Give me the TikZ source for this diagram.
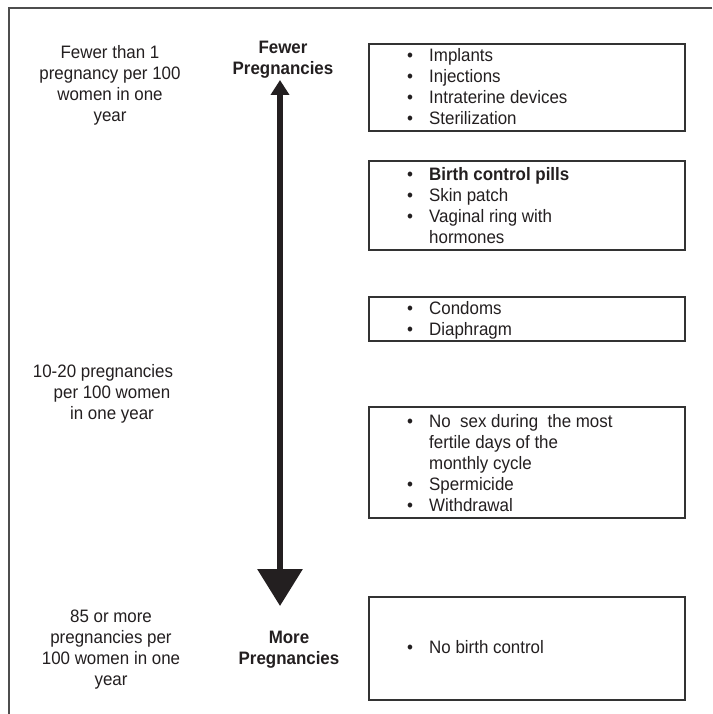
\documentclass[tikz,border=0pt]{standalone}
\usepackage{fontspec}
\setmainfont{Liberation Sans}[FakeStretch=0.94]
\usetikzlibrary{arrows.meta}
\definecolor{ink}{HTML}{231F20}
\definecolor{boxc}{HTML}{333333}
\definecolor{framec}{HTML}{4D4D4D}
\newcommand{\bul}{\makebox[22pt][l]{•}}
\newcommand{\ind}{\hspace*{22pt}}
\begin{document}
\begin{tikzpicture}[x=1pt,y=-1pt,
  txt/.style={font=\fontsize{18}{21}\selectfont, text=ink, inner sep=0pt},
  lbl/.style={txt, align=center, anchor=base},
  lblb/.style={lbl, font=\fontsize{18}{21}\selectfont\bfseries},
  lst/.style={txt, align=left, anchor=base west},
  box/.style={draw=boxc, line width=1.4pt, minimum width=316pt, inner sep=0pt},
  frame/.style={draw=framec, line width=2pt},
  bigarrow/.style={draw=ink, line width=6.5pt, {Triangle[width=18pt,length=15pt]}-{Triangle[width=44pt,length=37pt]}}
  ]
\useasboundingbox (0,0) rectangle (712,714);
\fill[white] (0,0) rectangle (712,714);
% outer frame
\coordinate (ftr) at (712,8);
\coordinate (ftl) at (9,8);
\coordinate (fbl) at (9,714);
\draw[frame] (ftr) -- (ftl) -- (fbl);
% left labels (anchor = baseline of last line)
\node[lbl] (t1) at (110,122) {Fewer than 1\\pregnancy per 100\\women in one\\year};
\node[lbl] (t2) at (112,419) {10-20 pregnancies\hspace*{18pt}\\per 100 women\\in one year};
\node[lbl] (t3) at (111,685) {85 or more\\pregnancies per\\100 women in one\\year};
% arrow and its labels
\node[lblb] (few) at (283,75) {Fewer\\Pregnancies};
\node[lblb] (more) at (289,664) {More\\Pregnancies};
\coordinate (atop) at (280,80);
\coordinate (abot) at (280,606);
\draw[bigarrow] (atop) -- (abot);
% boxes
\node[box, minimum height=87pt] (b1) at (527,87.5) {};
\node[box, minimum height=89pt] (b2) at (527,205.5) {};
\node[box, minimum height=44pt] (b3) at (527,319) {};
\node[box, minimum height=111pt] (b4) at (527,462.5) {};
\node[box, minimum height=103pt] (b5) at (527,648.5) {};
% lists (anchor = baseline of last line)
\node[lst] (l1) at (407,125) {\bul Implants\\\bul Injections\\\bul Intraterine devices\\\bul Sterilization};
\node[lst] (l2) at (407,243) {\bul\textbf{Birth control pills}\\\bul Skin patch\\\bul Vaginal ring with\\\ind hormones};
\node[lst] (l3) at (407,335) {\bul Condoms\\\bul Diaphragm};
\node[lst] (l4) at (407,511) {\bul No\ \ sex during\ \ the most\\\ind fertile days of the\\\ind monthly cycle\\\bul Spermicide\\\bul Withdrawal};
\node[lst] (l5) at (407,653) {\bul No birth control};
\end{tikzpicture}
\end{document}
